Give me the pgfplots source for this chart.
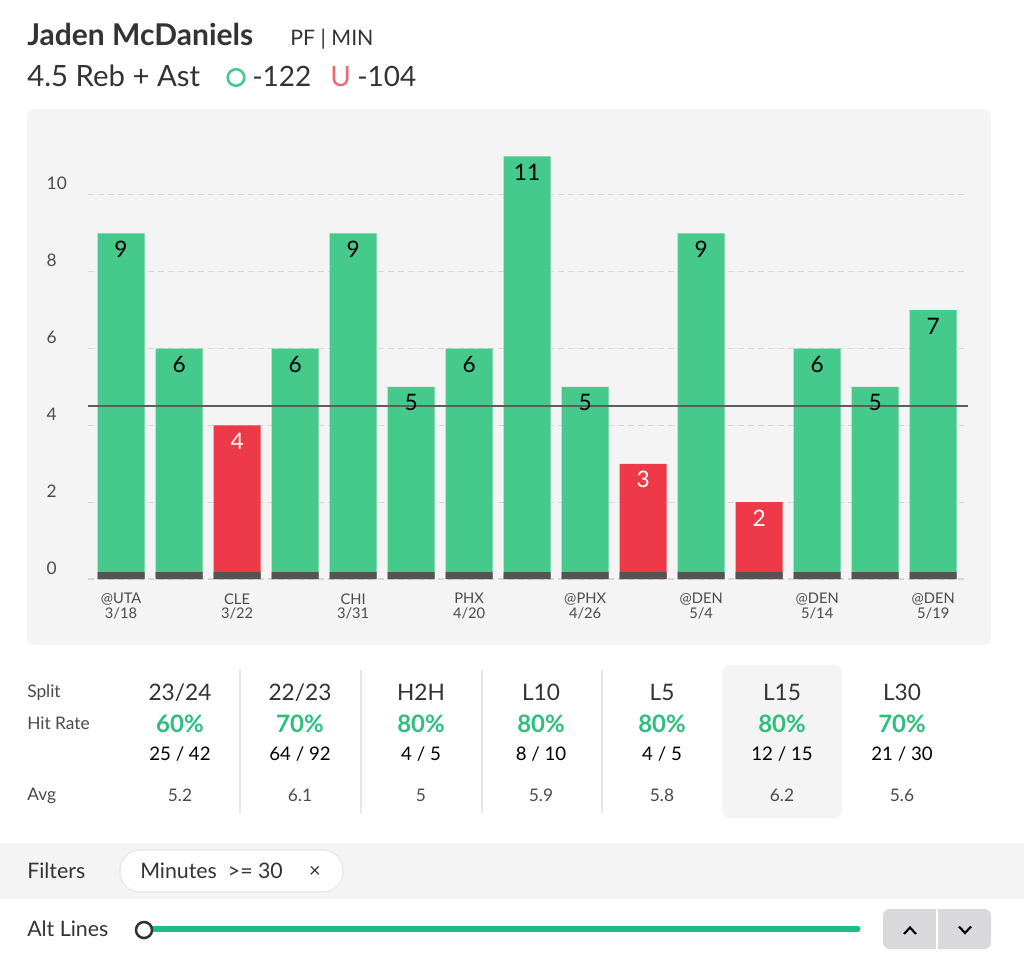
\documentclass[border=0pt]{standalone}
\usepackage{fontspec}
\setmainfont{Lato}
\usepackage{pgfplots}
\pgfplotsset{compat=1.18}
\definecolor{barg}{HTML}{46CA8C}
\definecolor{barr}{HTML}{EE3A48}
\definecolor{stripe}{HTML}{545454}
\definecolor{thr}{HTML}{5E5E5E}
\definecolor{panel}{HTML}{F4F4F4}
\definecolor{txt}{HTML}{333333}
\definecolor{txtl}{HTML}{4A4A4A}
\definecolor{hitg}{HTML}{2DBF7C}
\definecolor{gridc}{HTML}{D6D6D6}
\definecolor{sepc}{HTML}{E6E6E6}
\definecolor{slider}{HTML}{1DBD84}
\definecolor{btn}{HTML}{D9D9DB}
\definecolor{redu}{HTML}{EE6A70}
\newcommand\fs[1]{\fontsize{#1pt}{#1pt}\selectfont}
\begin{document}
\begin{tikzpicture}
\begin{scope}[x=0.75pt,y=-0.75pt]
\fill[white] (0,0) rectangle (1024,959);
\fill[panel, rounded corners=6pt] (27,109) rectangle (991,645);
% header
\node[anchor=base west, inner sep=0, text=txt] at (27,46) {\fs{22.5}\bfseries Jaden McDaniels};
\node[anchor=base west, inner sep=0, text=txt] at (290,46) {\fs{16}PF | MIN};
\node[anchor=base west, inner sep=0, text=txt] at (27,87) {\fs{22}4.5 Reb + Ast};
\draw[barg, line width=1.9pt] (236,77.5) circle (6.2pt);
\node[anchor=base west, inner sep=0, text=txt] at (252,87) {\fs{21}-122};
\node[anchor=base west, inner sep=0, text=redu] at (330,87) {\fs{21}U};
\node[anchor=base west, inner sep=0, text=txt] at (357,87) {\fs{21}-104};
% table
\fill[panel, rounded corners=6pt] (722,665) rectangle (842,818);
\foreach \xx in {240,361,482,602} \draw[sepc, line width=0.8pt] (\xx,670) -- (\xx,813);
\node[anchor=base west, inner sep=0, text=txtl] at (27,697) {\fs{13}Split};
\node[anchor=base west, inner sep=0, text=txtl] at (27,729) {\fs{13}Hit Rate};
\node[anchor=base west, inner sep=0, text=txtl] at (27,800) {\fs{13}Avg};
\foreach \cx/\hd/\pc/\fr/\av in {180/23\slash 24/60/25 \slash{} 42/5.2, 300/22\slash 23/70/64 \slash{} 92/6.1, 421/H2H/80/4 \slash{} 5/5, 541/L10/80/8 \slash{} 10/5.9, 662/L5/80/4 \slash{} 5/5.8, 782/L15/80/12 \slash{} 15/6.2, 902/L30/70/21 \slash{} 30/5.6}{
  \node[anchor=base, inner sep=0, text=txt] at (\cx,700) {\fs{17}\hd};
  \node[anchor=base, inner sep=0, text=hitg] at (\cx,732) {\fs{18}\bfseries \pc\%};
  \node[anchor=base, inner sep=0, text=black] at (\cx,760) {\fs{14}\fr};
  \node[anchor=base, inner sep=0, text=txtl] at (\cx,801) {\fs{13}\av};
}
% filters
\fill[panel] (0,843) rectangle (1024,899);
\node[anchor=base west, inner sep=0, text=txt] at (27,878) {\fs{16}Filters};
\filldraw[fill=white, draw=sepc, line width=0.9pt, rounded corners=15pt] (120,850) rectangle (343,892);
\node[anchor=base west, inner sep=0, text=txt] at (140,878) {\fs{16}Minutes\ \ >= 30};
\node[anchor=base, inner sep=0, text=txt] at (315,877) {\fs{15}×};
% alt lines
\node[anchor=base west, inner sep=0, text=txt] at (27,936) {\fs{16}Alt Lines};
\draw[slider, line width=3.8pt, line cap=round] (152,929) -- (858,929);
\filldraw[fill=white, draw=txt, line width=1.9pt] (144,930) circle (6pt);
\fill[btn, rounded corners=5pt] (883,909) rectangle (991,949);
\draw[white, line width=1pt] (937,909) -- (937,949);
\draw[black, line width=1.6pt] (904,934) -- (910,927.5) -- (916,934);
\draw[black, line width=1.6pt] (959,926.5) -- (965,933) -- (971,926.5);
\end{scope}
\begin{axis}[
  at={(66pt,-434.25pt)}, anchor=south west,
  scale only axis, width=660pt, height=345.75pt,
  xmin=-0.57, xmax=14.6, ymin=0, ymax=12,
  /pgf/number format/assume math mode=true,
  axis line style={draw=none}, tick style={draw=none},
  ytick={0,2,4,6,8,10}, ymajorgrids,
  grid style={gridc, line width=0.8pt, dash pattern=on 4.5pt off 3pt},
  xtick={0,2,4,6,8,10,12,14},
  xticklabels={{@UTA\\3/18},{CLE\\3/22},{CHI\\3/31},{PHX\\4/20},{@PHX\\4/26},{@DEN\\5/4},{@DEN\\5/14},{@DEN\\5/19}},
  xticklabel style={align=center, font=\fs{11}, text=txtl, yshift=-3pt},
  yticklabel style={font=\fs{13}, text=txtl, anchor=base west, xshift=-34.5pt, yshift=3.75pt},
  ybar, bar width=35.25pt,
  clip=false,
]
\addplot[ybar, fill=barg, draw=none, bar shift=0pt, nodes near coords,
  every node near coord/.append style={anchor=center, yshift=-12pt, font=\fs{17}, text=black}]
  coordinates {(0,9) (1,6) (3,6) (4,9) (5,5) (6,6) (7,11) (8,5) (10,9) (12,6) (13,5) (14,7)};
\addplot[ybar, fill=barr, draw=none, bar shift=0pt, nodes near coords,
  every node near coord/.append style={anchor=center, yshift=-12pt, font=\fs{17}, text=white}]
  coordinates {(2,4) (9,3) (11,2)};
\addplot[ybar, fill=stripe, draw=none, bar shift=0pt]
  coordinates {(0,0.18) (1,0.18) (2,0.18) (3,0.18) (4,0.18) (5,0.18) (6,0.18) (7,0.18) (8,0.18) (9,0.18) (10,0.18) (11,0.18) (12,0.18) (13,0.18) (14,0.18)};
\addplot[sharp plot, draw=thr, line width=1.6pt] coordinates {(-0.57,4.5) (14.6,4.5)};
\end{axis}
\end{tikzpicture}
\end{document}
